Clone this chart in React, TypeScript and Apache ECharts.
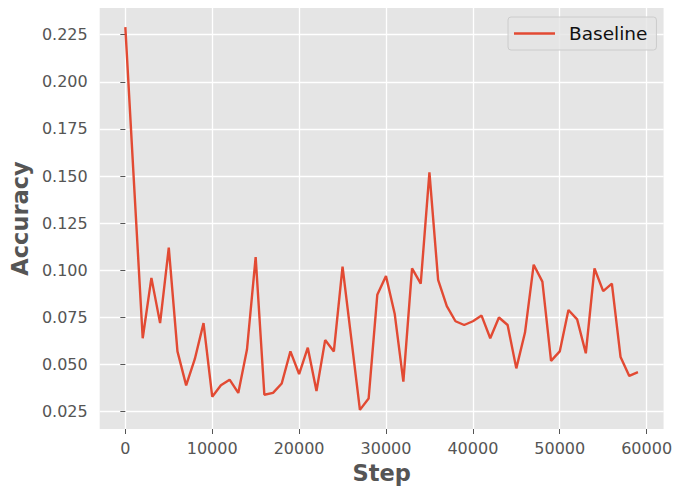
import React, { useEffect, useRef } from "react";
import * as echarts from "echarts";

const steps = [
  0, 1000, 2000, 3000, 4000, 5000, 6000, 7000, 8000, 9000,
  10000, 11000, 12000, 13000, 14000, 15000, 16000, 17000, 18000, 19000,
  20000, 21000, 22000, 23000, 24000, 25000, 26000, 27000, 28000, 29000,
  30000, 31000, 32000, 33000, 34000, 35000, 36000, 37000, 38000, 39000,
  40000, 41000, 42000, 43000, 44000, 45000, 46000, 47000, 48000, 49000,
  50000, 51000, 52000, 53000, 54000, 55000, 56000, 57000, 58000, 59000,
];

const baseline = [
  0.229, 0.146, 0.064, 0.096, 0.072, 0.112, 0.057, 0.039, 0.053, 0.072,
  0.033, 0.039, 0.042, 0.035, 0.058, 0.107, 0.034, 0.035, 0.04, 0.057,
  0.045, 0.059, 0.036, 0.063, 0.057, 0.102, 0.064, 0.026, 0.032, 0.087,
  0.097, 0.077, 0.041, 0.101, 0.093, 0.152, 0.095, 0.081, 0.073, 0.071,
  0.073, 0.076, 0.064, 0.075, 0.071, 0.048, 0.067, 0.103, 0.094, 0.052,
  0.057, 0.079, 0.074, 0.056, 0.101, 0.089, 0.093, 0.054, 0.044, 0.046,
];

const xTicks = [0, 10000, 20000, 30000, 40000, 50000, 60000];
const yTicks = [0.025, 0.05, 0.075, 0.1, 0.125, 0.15, 0.175, 0.2, 0.225];

const FONT = "DejaVu Sans";
const TICK_COLOR = "#555555";
const LINE_COLOR = "#E24A33";

export default function App() {
  const ref = useRef<HTMLDivElement>(null);

  useEffect(() => {
    if (!ref.current) return;
    const chart = echarts.init(ref.current, undefined, { renderer: "svg" });

    const xMinD = Math.min(...steps);
    const xMaxD = Math.max(...steps);
    const xPad = (xMaxD - xMinD) * 0.05;
    const yMinD = Math.min(...baseline);
    const yMaxD = Math.max(...baseline);
    const yPad = (yMaxD - yMinD) * 0.05;

    chart.setOption({
      animation: false,
      backgroundColor: "#ffffff",
      grid: {
        left: 97,
        right: 8,
        top: 8,
        bottom: 57,
        show: true,
        backgroundColor: "#E5E5E5",
        borderWidth: 0,
      },
      legend: {
        data: [{ name: "Baseline", icon: "rect" }],
        left: 508,
        top: 17,
        orient: "horizontal",
        padding: [6, 9, 6, 6],
        itemWidth: 41,
        itemHeight: 2.4,
        backgroundColor: "rgba(229,229,229,0.8)",
        borderColor: "#cccccc",
        borderWidth: 1,
        borderRadius: 3,
        itemStyle: { color: LINE_COLOR, borderWidth: 0 },
        lineStyle: { width: 0 },
        textStyle: {
          fontFamily: FONT,
          fontSize: 18.5,
          color: "#111111",
          lineHeight: 21,
          padding: [0, 0, 0, 9],
        },
      },
      xAxis: {
        type: "value",
        min: xMinD - xPad,
        max: xMaxD + xPad,
        name: "Step",
        nameLocation: "middle",
        nameGap: 32,
        nameTextStyle: {
          fontFamily: FONT,
          fontSize: 22.5,
          fontWeight: "bold",
          color: TICK_COLOR,
        },
        axisLine: { show: false },
        axisTick: {
          show: true,
          length: 5,
          inside: false,
          customValues: xTicks,
          lineStyle: { color: TICK_COLOR, width: 1 },
        },
        axisLabel: {
          customValues: xTicks,
          margin: 11,
          fontFamily: FONT,
          fontSize: 16,
          color: TICK_COLOR,
          formatter: (v: number) => String(v),
        },
        splitLine: { show: true, lineStyle: { color: "#ffffff", width: 1.3 } },
      },
      yAxis: {
        type: "value",
        min: yMinD - yPad,
        max: yMaxD + yPad,
        name: "Accuracy",
        nameLocation: "middle",
        nameGap: 68,
        nameRotate: 90,
        nameTextStyle: {
          fontFamily: FONT,
          fontSize: 22.5,
          fontWeight: "bold",
          color: TICK_COLOR,
        },
        axisLine: { show: false },
        axisTick: {
          show: true,
          length: 5,
          inside: false,
          customValues: yTicks,
          lineStyle: { color: TICK_COLOR, width: 1 },
        },
        axisLabel: {
          customValues: yTicks,
          margin: 12,
          fontFamily: FONT,
          fontSize: 16,
          color: TICK_COLOR,
          formatter: (v: number) => v.toFixed(3),
        },
        splitLine: { show: true, lineStyle: { color: "#ffffff", width: 1.3 } },
      },
      series: [
        {
          name: "Baseline",
          type: "line",
          data: steps.map((s, i) => [s, baseline[i]]),
          symbol: "none",
          showSymbol: false,
          lineStyle: { color: LINE_COLOR, width: 2.4 },
          itemStyle: { color: LINE_COLOR },
        },
      ],
    });

    return () => chart.dispose();
  }, []);

  return (
    <div
      ref={ref}
      style={{ position: "fixed", left: 0, top: 0, width: 675, height: 489 }}
    />
  );
}
